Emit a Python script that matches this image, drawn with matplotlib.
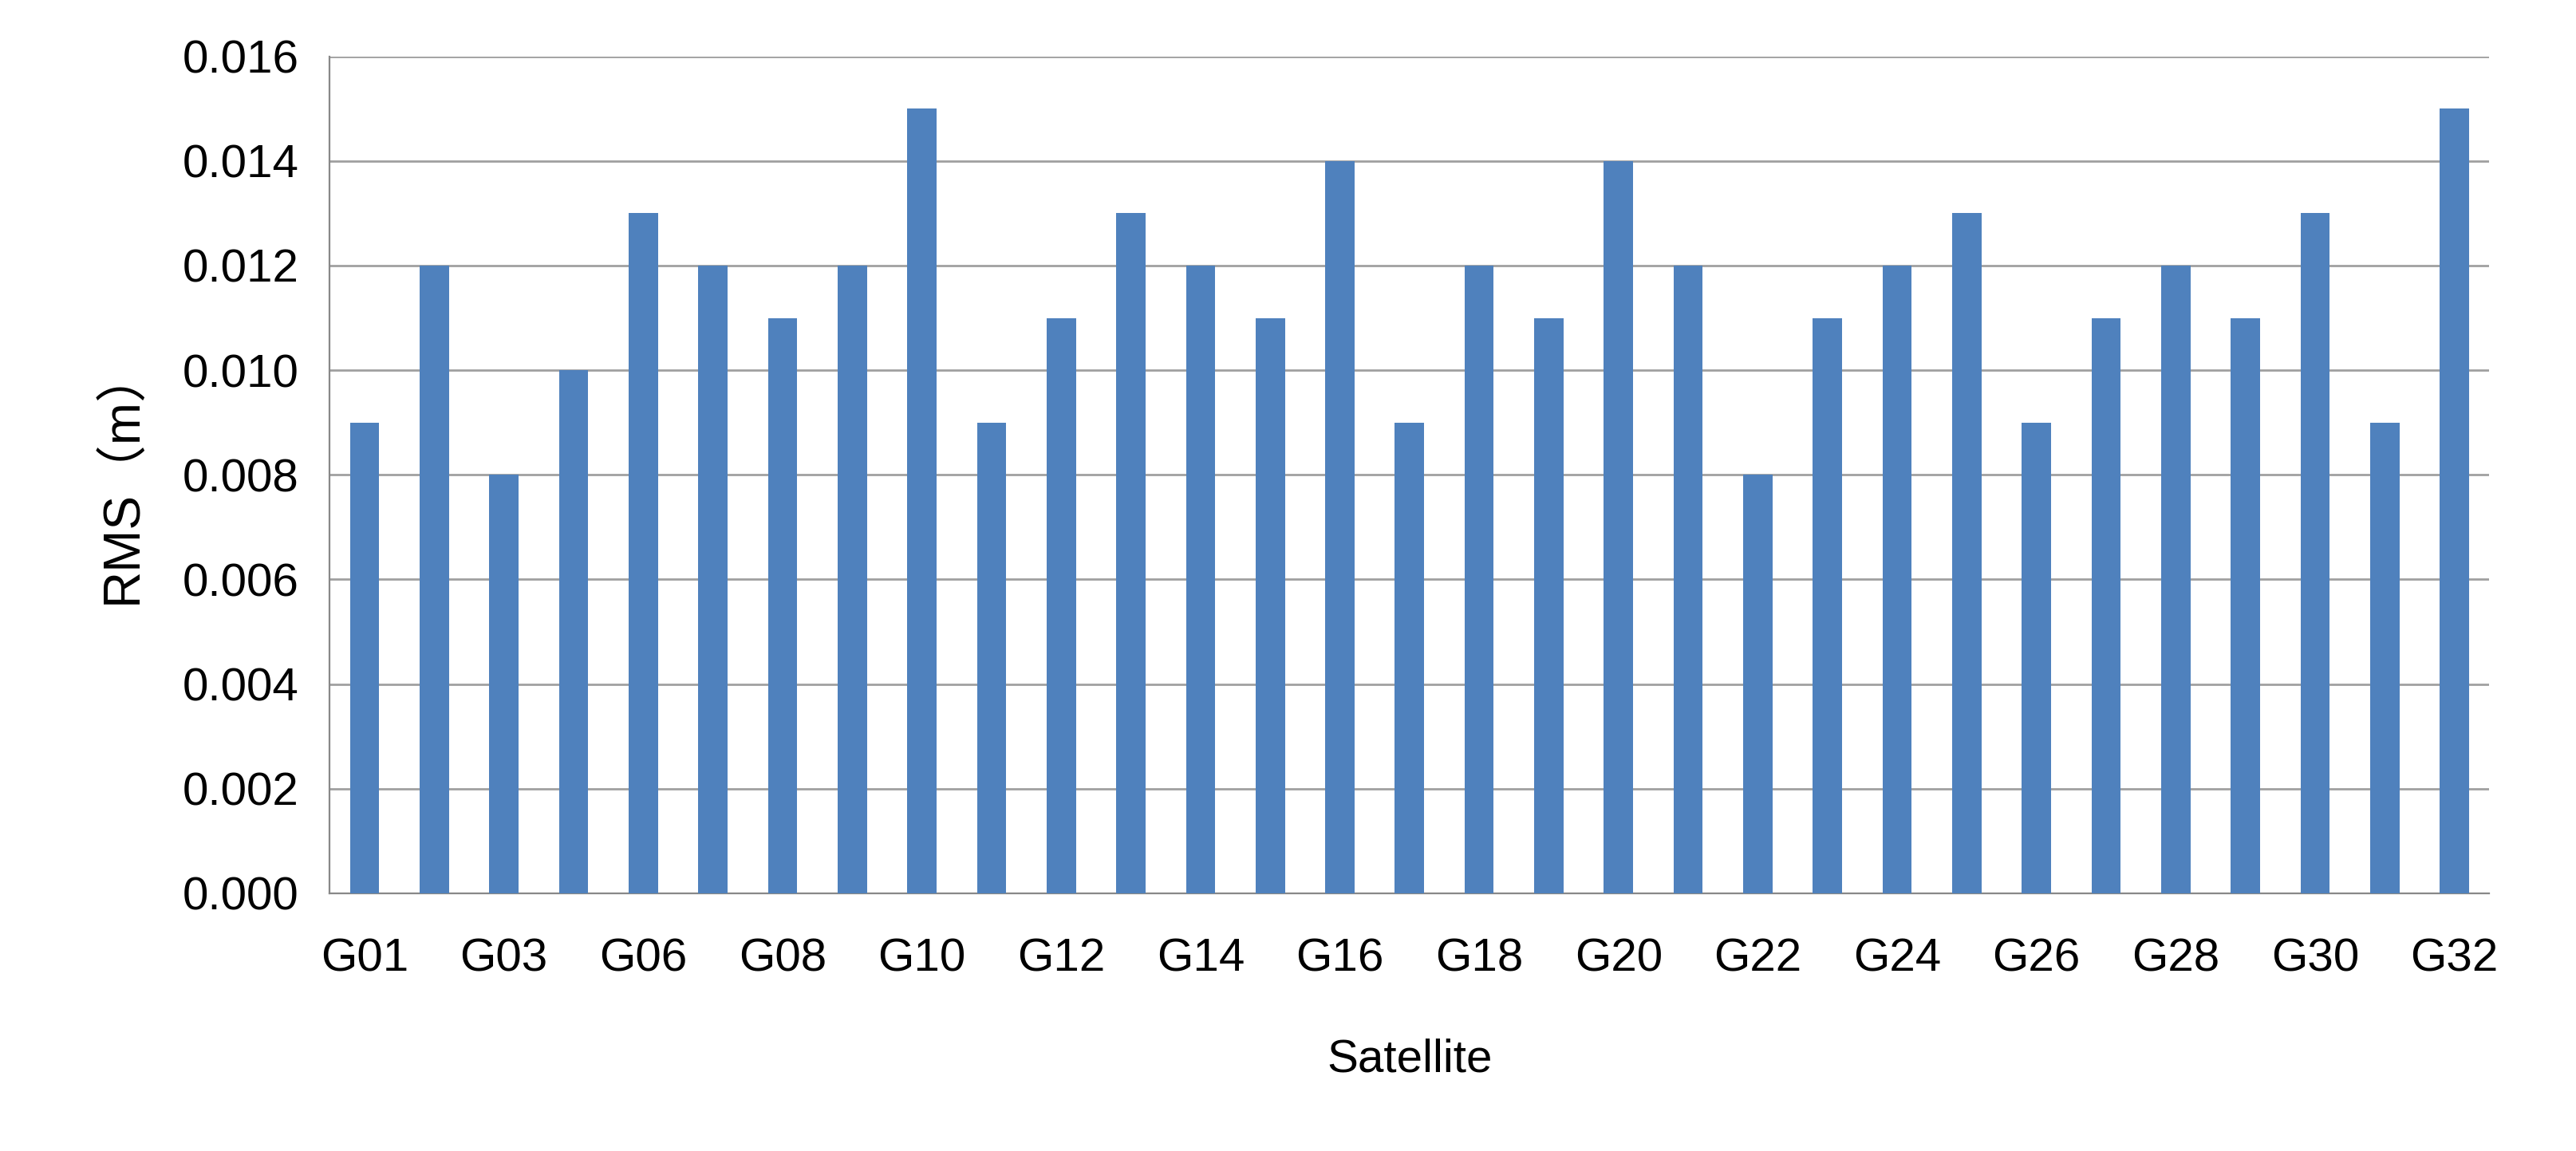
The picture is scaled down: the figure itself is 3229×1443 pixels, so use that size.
import matplotlib
matplotlib.use("Agg")
import matplotlib.pyplot as plt

sats = ["G01","G02","G03","G05","G06","G07","G08","G09","G10","G11","G12","G13","G14","G15","G16",
        "G17","G18","G19","G20","G21","G22","G23","G24","G25","G26","G27","G28","G29","G30","G31","G32"]
rms = [0.009,0.012,0.008,0.010,0.013,0.012,0.011,0.012,0.015,0.009,0.011,0.013,0.012,0.011,0.014,
       0.009,0.012,0.011,0.014,0.012,0.008,0.011,0.012,0.013,0.009,0.011,0.012,0.011,0.013,0.009,0.015]

plt.rcParams['font.family'] = ['Liberation Sans', 'Noto Sans CJK SC', 'DejaVu Sans']
fig = plt.figure(figsize=(16.15, 7.215), dpi=200)
ax = fig.add_axes([0.128, 0.224, 0.838, 0.727])
x = list(range(len(sats)))
ax.bar(x, rms, width=0.42, color='#4F81BD', zorder=3)
ax.set_xlim(-0.5, len(sats) - 0.5)
ax.set_ylim(0, 0.016)
ax.set_yticks([i * 0.002 for i in range(9)])
ax.set_yticklabels([f"{i*0.002:.3f}" for i in range(9)])
ax.set_xticks(x[::2])
ax.set_xticklabels(sats[::2])
ax.grid(axis='y', color='#A0A0A0', linewidth=1, zorder=0)
for s in ['top', 'right']:
    ax.spines[s].set_visible(False)
for s in ['left', 'bottom']:
    ax.spines[s].set_color('#888888')
ax.tick_params(axis='both', labelsize=21, length=0, pad=14)
ax.tick_params(axis='x', pad=20)
ax.set_ylabel("RMS（m）", fontsize=23, labelpad=16)
ax.set_xlabel("Satellite", fontsize=21, labelpad=26)
fig.savefig("out.png", dpi=200)
